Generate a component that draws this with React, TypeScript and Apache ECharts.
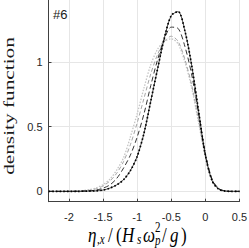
import React, { useEffect, useRef } from "react";
import * as echarts from "echarts";

const xs = [-2.3, -2.2, -2.1, -2.0, -1.9, -1.8, -1.7, -1.6, -1.5, -1.4, -1.3, -1.2, -1.1, -1.0, -0.9, -0.8, -0.7, -0.6, -0.5, -0.4, -0.3, -0.2, -0.1, 0.0, 0.1, 0.2, 0.3, 0.4, 0.5];
const blackPdf = [0, 0, 0, 0, 0, 0.001, 0.002, 0.004, 0.01, 0.025, 0.05, 0.09, 0.16, 0.27, 0.45, 0.7, 0.95, 1.19, 1.36, 1.39, 1.24, 0.97, 0.62, 0.28, 0.08, 0.015, 0.002, 0, 0];
const darkDashedPdf = [0, 0, 0, 0, 0.001, 0.002, 0.005, 0.01, 0.025, 0.05, 0.1, 0.18, 0.28, 0.42, 0.6, 0.82, 1.02, 1.18, 1.27, 1.26, 1.12, 0.9, 0.6, 0.29, 0.09, 0.02, 0.003, 0, 0];
const grayDashedPdf = [0, 0, 0, 0.001, 0.002, 0.004, 0.009, 0.02, 0.042, 0.08, 0.14, 0.23, 0.36, 0.53, 0.72, 0.91, 1.06, 1.16, 1.2, 1.16, 1.02, 0.82, 0.55, 0.27, 0.085, 0.018, 0.002, 0, 0];
const lightDottedPdf = [0, 0, 0, 0.001, 0.003, 0.006, 0.013, 0.027, 0.052, 0.095, 0.165, 0.26, 0.42, 0.6, 0.8, 0.98, 1.1, 1.16, 1.18, 1.14, 1.0, 0.8, 0.53, 0.27, 0.09, 0.02, 0.003, 0, 0];
const xTicks = [-2, -1.5, -1, -0.5, 0, 0.5];
const yTicks = [0, 0.5, 1];

const pairs = (ys: number[]) => xs.map((x, i) => [x, ys[i]]);

export default function App() {
  const ref = useRef<HTMLDivElement>(null);
  useEffect(() => {
    document.body.style.margin = "0";
    const chart = echarts.init(ref.current!, null, { renderer: "svg" });
    const serif = "Liberation Serif";
    const tx = (text: string, x: number, y: number, size: number, italic: boolean) => ({
      type: "text",
      x,
      y,
      scaleY: 1.25,
      style: {
        text,
        fontFamily: serif,
        fontStyle: italic ? "italic" : "normal",
        fontSize: size,
        fill: "#000",
        textAlign: "left",
        textVerticalAlign: "middle",
      },
    });
    chart.setOption({
      animation: false,
      grid: { left: 48.5, right: 9.5, top: 0, bottom: 46.3, containLabel: false, outerBoundsMode: "none" },
      xAxis: {
        type: "value",
        min: -2.3,
        max: 0.5,
        axisLine: { show: true, onZero: false, lineStyle: { color: "#404040", width: 1 } },
        axisTick: { show: true, inside: true, length: 3, customValues: xTicks, lineStyle: { color: "#404040" } },
        axisLabel: { customValues: xTicks, margin: 10, fontSize: 11, color: "#262626", fontFamily: "Liberation Sans", formatter: (v: number) => String(v) },
        splitLine: { show: true, lineStyle: { color: "#e6e6e6", width: 1 } },
      },
      yAxis: {
        type: "value",
        min: -0.08,
        max: 1.48,
        axisLine: { show: true, onZero: false, lineStyle: { color: "#404040", width: 1 } },
        axisTick: { show: true, inside: true, length: 3, customValues: yTicks, lineStyle: { color: "#404040" } },
        axisLabel: { customValues: yTicks, margin: 6, fontSize: 11, color: "#262626", fontFamily: "Liberation Sans", formatter: (v: number) => String(v) },
        splitLine: { show: true, lineStyle: { color: "#e6e6e6", width: 1 } },
      },
      series: [
        { type: "line", data: pairs(lightDottedPdf), smooth: 0.3, showSymbol: false, lineStyle: { color: "#c4c4c4", width: 1.3, type: [1.5, 1.5] } },
        { type: "line", data: pairs(grayDashedPdf), smooth: 0.3, showSymbol: false, lineStyle: { color: "#a6a6a6", width: 1, type: [4, 2.5] } },
        { type: "line", data: pairs(darkDashedPdf), smooth: 0.3, showSymbol: false, lineStyle: { color: "#333333", width: 1, type: [5, 3] } },
        { type: "line", data: pairs(blackPdf), smooth: 0.3, showSymbol: false, lineStyle: { color: "#000", width: 0.7 } },
        { type: "line", data: pairs(blackPdf), smooth: 0.3, showSymbol: false, lineStyle: { color: "#000", width: 1.7, type: [1.5, 2.2], cap: "butt" } },
      ],
      graphic: [
        { type: "text", x: 53, y: 14, style: { text: "#6", fontFamily: "Liberation Sans", fontSize: 13, fill: "#1a1a1a", textAlign: "left", textVerticalAlign: "middle" } },
        {
          type: "text",
          x: 9,
          y: 106,
          rotation: Math.PI / 2,
          scaleX: 1.42,
          style: { text: "density function", fontFamily: serif, fontSize: 15, fill: "#1a1a1a", textAlign: "center", textVerticalAlign: "middle" },
        },
        tx("η", 88, 235, 17, true),
        tx(",x", 97, 240, 11, true),
        tx("/", 108, 235, 17, false),
        tx("(", 116, 235, 17, false),
        tx("H", 122, 235, 17, true),
        tx("s", 137, 240, 11, true),
        tx("ω", 143, 235, 17, true),
        tx("2", 155, 228, 11, false),
        tx("p", 155, 241, 11, true),
        tx("/", 162, 235, 17, false),
        tx("g", 170, 235, 17, true),
        tx(")", 181, 235, 17, false),
      ],
    });
    return () => chart.dispose();
  }, []);
  return <div ref={ref} style={{ width: 249, height: 248 }} />;
}
